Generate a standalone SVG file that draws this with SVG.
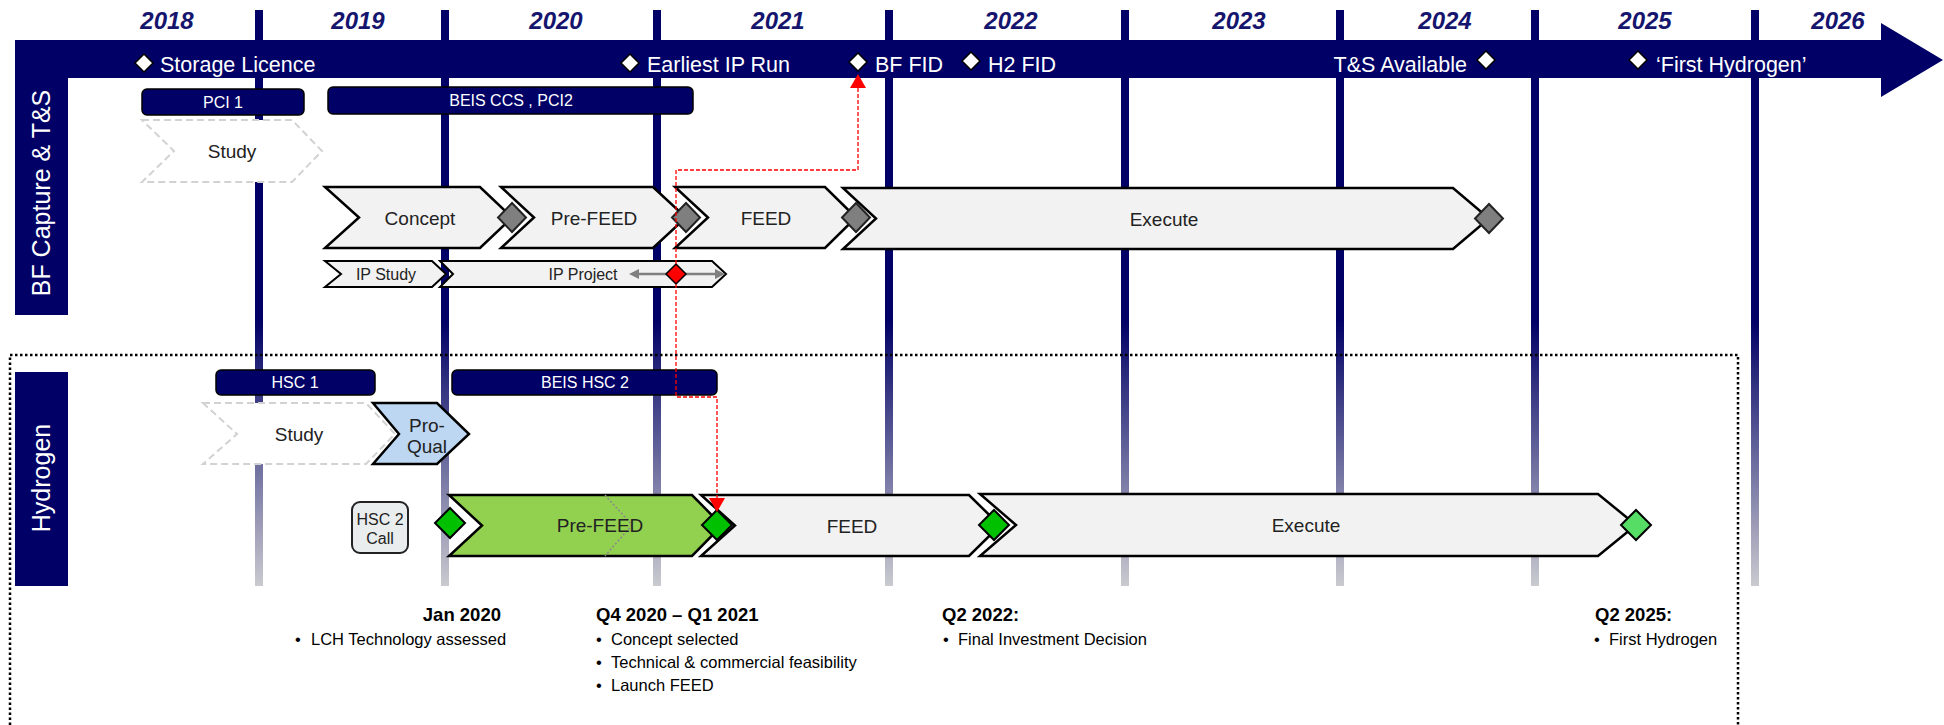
<svg xmlns="http://www.w3.org/2000/svg" width="1944" height="725" viewBox="0 0 1944 725">
<defs>
<linearGradient id="vg" gradientUnits="userSpaceOnUse" x1="0" y1="320" x2="0" y2="586">
<stop offset="0" stop-color="#000066"/>
<stop offset="1" stop-color="#cacad0"/>
</linearGradient>
<marker id="ra" markerUnits="userSpaceOnUse" markerWidth="14" markerHeight="16" viewBox="0 0 14 16" refX="0" refY="8" orient="auto-start-reverse">
<path d="M0,0 L14,8 L0,16 Z" fill="#ff0000"/>
</marker>
<marker id="ga" markerUnits="userSpaceOnUse" markerWidth="10" markerHeight="10" viewBox="0 0 10 10" refX="2" refY="5" orient="auto-start-reverse">
<path d="M0,0 L10,5 L0,10 Z" fill="#808080"/>
</marker>
<style>
.yr{font-family:"Liberation Sans",Arial,sans-serif;font-weight:bold;font-style:italic;font-size:24px;fill:#15156e;text-anchor:middle}
.vl{fill:url(#vg)}
.bar{fill:#000066}
.ms{font-family:"Liberation Sans",Arial,sans-serif;font-size:21.5px;fill:#fff}
.wd{fill:#fff;stroke:#000;stroke-width:1.5}
.fund{fill:#000066;stroke:#000;stroke-width:1.5}
.ft{font-family:"Liberation Sans",Arial,sans-serif;font-size:16px;fill:#fff;text-anchor:middle}
.chev{fill:#f2f2f2;stroke:#000;stroke-width:2.5;stroke-linejoin:miter}
.dash{fill:#fff;stroke:#d2d2d2;stroke-width:2;stroke-dasharray:7 4}
.ct{font-family:"Liberation Sans",Arial,sans-serif;font-size:19px;fill:#222;text-anchor:middle}
.ct16{font-family:"Liberation Sans",Arial,sans-serif;font-size:16px;fill:#222;text-anchor:middle}
.gd{fill:#7f7f7f;stroke:#222;stroke-width:2}
.grd{fill:#00c000;stroke:#000;stroke-width:2}
.lab{font-family:"Liberation Sans",Arial,sans-serif;font-size:25px;fill:#fff;text-anchor:middle}
.hd{font-family:"Liberation Sans",Arial,sans-serif;font-weight:bold;font-size:18.5px;fill:#000}
.bt{font-family:"Liberation Sans",Arial,sans-serif;font-size:16.5px;fill:#000}
.red{fill:none;stroke:#ff0000;stroke-width:1.3;stroke-dasharray:4 2}
</style>
</defs>
<rect width="1944" height="725" fill="#fff"/>

<g id="year-grid">
<rect class="vl" x="255" y="10" width="8" height="576"/>
<rect class="vl" x="441" y="10" width="8" height="576"/>
<rect class="vl" x="653" y="10" width="8" height="576"/>
<rect class="vl" x="885" y="10" width="8" height="576"/>
<rect class="vl" x="1121" y="10" width="8" height="576"/>
<rect class="vl" x="1336" y="10" width="8" height="576"/>
<rect class="vl" x="1531" y="10" width="8" height="576"/>
<rect class="vl" x="1751" y="10" width="8" height="576"/>
<text class="yr" x="167" y="29">2018</text>
<text class="yr" x="358" y="29">2019</text>
<text class="yr" x="556" y="29">2020</text>
<text class="yr" x="778" y="29">2021</text>
<text class="yr" x="1011" y="29">2022</text>
<text class="yr" x="1239" y="29">2023</text>
<text class="yr" x="1445" y="29">2024</text>
<text class="yr" x="1645" y="29">2025</text>
<text class="yr" x="1838" y="29">2026</text>
</g>

<g id="bf-lane">
<path class="bar" d="M15 40 H1881 V23 L1943 60 L1881 97 V78 H68 V315 H15 Z"/>
<text class="lab" transform="translate(50,193) rotate(-90)" x="0" y="0">BF Capture &amp; T&amp;S</text>
</g>

<g id="ms-storage"><path class="wd" d="M144 54 L153 63 L144 72 L135 63 Z"/><text class="ms" x="160" y="71.5">Storage Licence</text></g>
<g id="ms-earliest"><path class="wd" d="M630 54 L639 63 L630 72 L621 63 Z"/><text class="ms" x="647" y="71.5">Earliest IP Run</text></g>
<g id="ms-bffid"><path class="wd" d="M858 53 L867 62 L858 71 L849 62 Z"/><text class="ms" x="875" y="71.5">BF FID</text></g>
<g id="ms-h2fid"><path class="wd" d="M971 52 L980 61 L971 70 L962 61 Z"/><text class="ms" x="988" y="71.5">H2 FID</text></g>
<g id="ms-ts"><path class="wd" d="M1486 51 L1495 60 L1486 69 L1477 60 Z"/><text class="ms" x="1467" y="71.5" text-anchor="end">T&amp;S Available</text></g>
<g id="ms-firsth2"><path class="wd" d="M1638 51 L1647 60 L1638 69 L1629 60 Z"/><text class="ms" x="1656" y="71.5">‘First Hydrogen’</text></g>

<g id="pci1"><rect class="fund" x="142" y="89" width="162" height="26" rx="5"/><text class="ft" x="223" y="107.5">PCI 1</text></g>
<g id="beis-ccs"><rect class="fund" x="328" y="87" width="365" height="27" rx="5"/><text class="ft" x="511" y="106">BEIS CCS , PCI2</text></g>

<g id="bf-study"><polygon class="dash" points="142,120 292,120 322,151 292,182 142,182 174,151"/><text class="ct" x="232" y="157.5">Study</text></g>

<g id="bf-concept"><polygon class="chev" points="325,187 480,187 512,217.5 480,248 325,248 359,217.5"/><text class="ct" x="420" y="224.5">Concept</text><path class="gd" d="M512 203 L526 217.5 L512 232 L498 217.5 Z"/></g>
<g id="bf-prefeed"><polygon class="chev" points="501,187 653,187 686,217.5 653,248 501,248 534,217.5"/><text class="ct" x="594" y="224.5">Pre-FEED</text><path class="gd" d="M686 203 L700 217.5 L686 232 L672 217.5 Z"/></g>
<g id="bf-feed"><polygon class="chev" points="675,187 825,187 856,217.5 825,248 675,248 708,217.5"/><text class="ct" x="766" y="224.5">FEED</text><path class="gd" d="M856 203 L870 217.5 L856 232 L842 217.5 Z"/></g>
<g id="bf-execute"><polygon class="chev" points="843,188 1453,188 1489,218.5 1453,249 843,249 876,218.5"/><text class="ct" x="1164" y="226">Execute</text><path class="gd" d="M1489 204 L1503 218.5 L1489 233 L1475 218.5 Z"/></g>

<g id="ip-study"><polygon class="chev" points="325,261 432,261 446,274 432,287 325,287 341,274" style="stroke-width:2"/><text class="ct16" x="386" y="279.5">IP Study</text></g>
<g id="ip-project"><polygon class="chev" points="440,261 712,261 726,274 712,287 440,287 453,274" style="stroke-width:2"/><text class="ct16" x="583" y="279.5">IP Project</text>
<line x1="637" y1="274" x2="717" y2="274" stroke="#808080" stroke-width="2.5" marker-start="url(#ga)" marker-end="url(#ga)"/>
<path d="M676 264 L686 274 L676 284 L666 274 Z" fill="#ff0000" stroke="#000" stroke-width="1.5"/></g>

<g id="h2-box"><path d="M10 725 V355 H1738 V725" fill="none" stroke="#000" stroke-width="2.5" stroke-dasharray="2.5 2.5"/></g>

<g id="h2-lane"><rect class="bar" x="15" y="372" width="53" height="214"/>
<text class="lab" transform="translate(50,478) rotate(-90)" x="0" y="0">Hydrogen</text></g>

<g id="hsc1"><rect class="fund" x="216" y="370" width="159" height="25" rx="5"/><text class="ft" x="295" y="388">HSC 1</text></g>
<g id="beis-hsc2"><rect class="fund" x="452" y="370" width="265" height="25" rx="5"/><text class="ft" x="585" y="388">BEIS HSC 2</text></g>

<g id="h2-study"><polygon class="dash" points="203,403 366,403 395,434 366,464 203,464 237,434"/><text class="ct" x="299" y="441">Study</text></g>
<g id="h2-proqual"><polygon points="373,403 437,403 469,434 437,464 373,464 399,434" fill="#bdd7f3" stroke="#000" stroke-width="2.5"/><text class="ct" x="427" y="432">Pro-</text><text class="ct" x="427" y="453">Qual</text></g>

<g id="hsc2-call"><rect x="352" y="502" width="56" height="51" rx="8" fill="#e9eded" stroke="#222" stroke-width="2"/><text class="ct16" x="380" y="525">HSC 2</text><text class="ct16" x="380" y="544">Call</text></g>

<g id="h2-prefeed"><polygon points="449,495 692,495 722,525.5 692,556 449,556 482,525.5" fill="#92d050" stroke="#000" stroke-width="2.5"/>
<polyline points="605,495 632,525 605,556" fill="none" stroke="#8a8a8a" stroke-width="1.5" stroke-dasharray="2 2"/>
<text class="ct" x="600" y="532">Pre-FEED</text>
<path class="grd" d="M450 508 L465 523 L450 538 L435 523 Z"/></g>
<g id="h2-feed"><polygon class="chev" points="701,495 969,495 1000,525.5 969,556 701,556 735,525.5"/><text class="ct" x="852" y="533">FEED</text>
<path class="grd" d="M717 510 L732 525 L717 540 L702 525 Z"/></g>
<g id="h2-execute"><polygon class="chev" points="980,494 1598,494 1636,525 1598,556 980,556 1016,525"/><text class="ct" x="1306" y="532">Execute</text>
<path class="grd" d="M994 510 L1009 525 L994 540 L979 525 Z"/>
<path d="M1636 510 L1651 525 L1636 540 L1621 525 Z" fill="#55dd66" stroke="#000" stroke-width="2"/></g>

<g id="note-jan2020"><text class="hd" x="501" y="621" text-anchor="end">Jan 2020</text>
<text class="bt" x="298" y="645" text-anchor="middle">•</text><text class="bt" x="311" y="645">LCH Technology assessed</text></g>
<g id="note-q4-2020"><text class="hd" x="596" y="621">Q4 2020 – Q1 2021</text>
<text class="bt" x="599" y="645" text-anchor="middle">•</text><text class="bt" x="611" y="645">Concept selected</text>
<text class="bt" x="599" y="668" text-anchor="middle">•</text><text class="bt" x="611" y="668">Technical &amp; commercial feasibility</text>
<text class="bt" x="599" y="691" text-anchor="middle">•</text><text class="bt" x="611" y="691">Launch FEED</text></g>
<g id="note-q2-2022"><text class="hd" x="942" y="621">Q2 2022:</text>
<text class="bt" x="946" y="645" text-anchor="middle">•</text><text class="bt" x="958" y="645">Final Investment Decision</text></g>
<g id="note-q2-2025"><text class="hd" x="1595" y="621">Q2 2025:</text>
<text class="bt" x="1597" y="645" text-anchor="middle">•</text><text class="bt" x="1609" y="645">First Hydrogen</text></g>

<g id="connectors">
<path class="red" d="M858 88 V170 H676 V397 H717 V498" marker-start="url(#ra)" marker-end="url(#ra)"/>
</g>
</svg>
